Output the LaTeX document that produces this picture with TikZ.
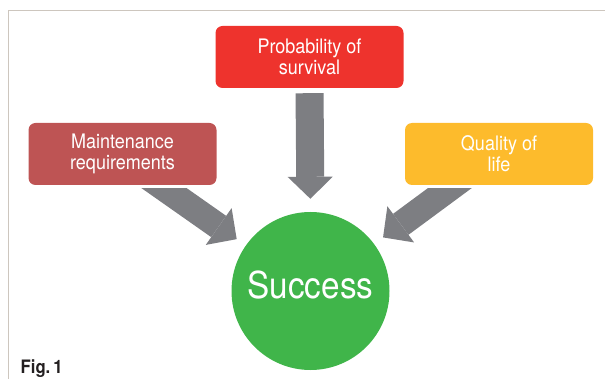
\documentclass[tikz,border=0pt]{standalone}
\usepackage{fontspec}
\newfontfamily\condfont{TeX Gyre Heros}[FakeStretch=0.9]
\usetikzlibrary{shapes,arrows.meta}

\definecolor{survred}{RGB}{238,51,45}
\definecolor{maintred}{RGB}{190,84,84}
\definecolor{lifeyellow}{RGB}{253,187,44}
\definecolor{succgreen}{RGB}{64,181,74}
\definecolor{arrowgray}{RGB}{125,126,130}
\definecolor{framecol}{RGB}{205,198,190}
\definecolor{figtext}{RGB}{35,31,32}

\begin{document}
\begin{tikzpicture}[x=1pt,y=-1pt]
\tikzstyle{factor}=[
	rectangle,
	rounded corners=7pt,
	minimum width=188pt,
	minimum height=62pt,
	inner sep=0pt,
	align=center,
	text=white,
	font=\condfont\fontsize{20}{21}\selectfont ]
\tikzstyle{goal}=[
	circle,
	fill=succgreen,
	minimum size=158pt,
	inner sep=0pt,
	text depth=12pt,
	text=white,
	font=\condfont\fontsize{37}{40}\selectfont ]
\tikzstyle{fatarrow}=[
	draw=arrowgray,
	-{Triangle[width=45pt,length=22pt,line width=0pt]} ]
\useasboundingbox (0,0) rectangle (605,379);
\draw[framecol,line width=1pt] (8,379) -- (8,11) -- (605,11);

\node[factor,fill=survred] (surv) at (309.5,57) {Probability of\\survival};
\node[factor,fill=maintred] (maint) at (122.5,154) {Maintenance\\requirements};
\node[factor,fill=lifeyellow] (life) at (499,154) {Quality of\\life};
\node[goal] (succ) at (310.5,291) {Success};

\draw[fatarrow,line width=28pt,shorten <=5pt,shorten >=13pt] (surv.south) -- (succ.north);
\begin{scope}
\clip ([yshift=-3pt]maint.south west) rectangle (life.east |- succ.south);
\draw[fatarrow,line width=26pt,shorten >=11pt] ([xshift=-7pt]maint.center) -- (succ);
\draw[fatarrow,line width=26pt,shorten >=11pt] ([xshift=-3pt]life.center) -- (succ);
\end{scope}

\node[anchor=base west,text=figtext,inner sep=0pt,
	font=\condfont\bfseries\fontsize{18.5}{20}\selectfont] (fig) at (20.5,373.3) {Fig.\,1};
\end{tikzpicture}
\end{document}
